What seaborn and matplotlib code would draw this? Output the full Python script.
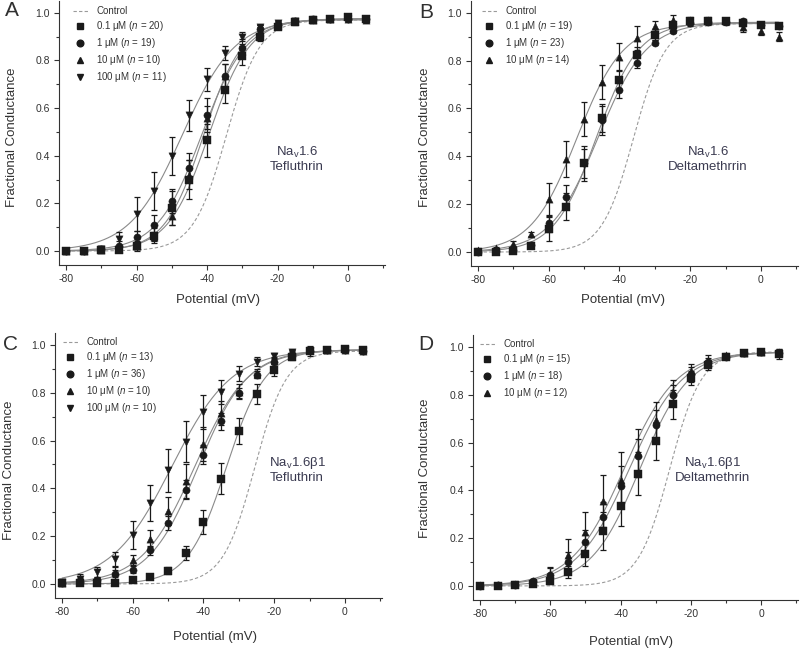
import numpy as np
import pandas as pd
import matplotlib
matplotlib.use("Agg")
import matplotlib.pyplot as plt
import seaborn as sns
from matplotlib.lines import Line2D
from matplotlib.ticker import MultipleLocator

# ---------------- data ----------------
voltage = [-80, -75, -70, -65, -60, -55, -50, -45, -40, -35, -30, -25, -20, -15, -10, -5, 0, 5]
conc_labels = ["0.1 \u03bcM", "1 \u03bcM", "10 \u03bcM", "100 \u03bcM"]
markers = ["s", "o", "^", "v"]

# Panel A : Nav1.6 Tefluthrin
a_n = [20, 19, 10, 11]
a_01 = [0.0, 0.0, 0.005, 0.005, 0.02, 0.065, 0.18, 0.30, 0.465, 0.675, 0.82, 0.90, 0.94, 0.96, 0.97, 0.975, 0.98, 0.975]
a_1 = [0.0, 0.0, 0.01, 0.02, 0.06, 0.11, 0.21, 0.35, 0.57, 0.735, 0.85, 0.93, 0.95, 0.965, 0.975, 0.975, 0.975, 0.975]
a_10 = [0.0, 0.0, 0.005, 0.01, 0.02, 0.06, 0.145, 0.32, 0.56, 0.735, 0.84, 0.92, 0.95, 0.965, 0.97, 0.975, 0.975, 0.97]
a_100 = [0.0, 0.0, 0.01, 0.05, 0.155, 0.25, 0.40, 0.57, 0.72, 0.83, 0.90, 0.94, 0.955, 0.965, 0.97, 0.975, 0.975, 0.975]
a_e01 = [0, 0, 0, 0.005, 0.01, 0.03, 0.07, 0.08, 0.07, 0.055, 0.04, 0.02, 0.01, 0.01, 0.01, 0.005, 0.005, 0.005]
a_e1 = [0, 0, 0.01, 0.02, 0.025, 0.04, 0.05, 0.06, 0.07, 0.05, 0.04, 0.02, 0.01, 0.01, 0.01, 0.005, 0.005, 0.005]
a_e10 = [0, 0, 0.005, 0.01, 0.02, 0.02, 0.035, 0.06, 0.05, 0.05, 0.03, 0.02, 0.01, 0.01, 0.01, 0.005, 0.005, 0.005]
a_e100 = [0, 0, 0.01, 0.03, 0.07, 0.08, 0.08, 0.065, 0.05, 0.03, 0.02, 0.01, 0.01, 0.01, 0.01, 0.005, 0.005, 0.005]
a_vhalf = [-39.5, -41.5, -41.0, -47.0]
a_slope = [5.8, 6.3, 5.5, 7.5]
a_gmax = [0.975, 0.975, 0.97, 0.975]
a_ctrl = [-34.5, 4.7, 0.97]   # V1/2, k, Gmax of control fit

# Panel B : Nav1.6 Deltamethrin
b_n = [19, 23, 14]
b_01 = [0.0, 0.0, 0.005, 0.025, 0.095, 0.19, 0.37, 0.56, 0.72, 0.825, 0.905, 0.95, 0.965, 0.965, 0.965, 0.955, 0.95, 0.945]
b_1 = [0.0, 0.005, 0.01, 0.03, 0.12, 0.23, 0.37, 0.55, 0.675, 0.79, 0.875, 0.925, 0.955, 0.96, 0.96, 0.965, 0.95, 0.945]
b_10 = [0.01, 0.015, 0.035, 0.075, 0.22, 0.39, 0.555, 0.71, 0.815, 0.895, 0.945, 0.97, 0.97, 0.97, 0.965, 0.94, 0.925, 0.90]
b_e01 = [0, 0, 0.005, 0.01, 0.05, 0.055, 0.075, 0.06, 0.04, 0.03, 0.02, 0.01, 0.01, 0.01, 0.01, 0.01, 0.01, 0.01]
b_e1 = [0, 0, 0.005, 0.01, 0.035, 0.05, 0.06, 0.06, 0.03, 0.02, 0.01, 0.01, 0.01, 0.01, 0.01, 0.01, 0.01, 0.01]
b_e10 = [0.005, 0.005, 0.01, 0.01, 0.07, 0.075, 0.07, 0.07, 0.06, 0.05, 0.02, 0.02, 0.01, 0.01, 0.01, 0.02, 0.02, 0.02]
b_vhalf = [-46.5, -46.0, -52.0]
b_slope = [6.0, 6.8, 6.5]
b_gmax = [0.96, 0.96, 0.955]
b_ctrl = [-36.0, 4.5, 0.955]

# Panel C : Nav1.6b1 Tefluthrin
c_n = [13, 36, 10, 10]
c_01 = [0.005, 0.005, 0.005, 0.005, 0.015, 0.03, 0.055, 0.13, 0.26, 0.44, 0.64, 0.795, 0.895, 0.95, 0.975, 0.98, 0.985, 0.98]
c_1 = [0.005, 0.01, 0.015, 0.04, 0.06, 0.14, 0.255, 0.395, 0.54, 0.68, 0.80, 0.875, 0.93, 0.96, 0.975, 0.98, 0.98, 0.975]
c_10 = [0.005, 0.015, 0.02, 0.05, 0.10, 0.19, 0.305, 0.43, 0.585, 0.715, 0.805, 0.88, 0.94, 0.965, 0.98, 0.98, 0.98, 0.975]
c_100 = [0.01, 0.02, 0.05, 0.105, 0.205, 0.34, 0.475, 0.595, 0.72, 0.805, 0.88, 0.93, 0.955, 0.97, 0.975, 0.98, 0.98, 0.975]
c_e01 = [0, 0, 0, 0, 0.005, 0.01, 0.015, 0.03, 0.05, 0.065, 0.055, 0.04, 0.025, 0.015, 0.01, 0.01, 0.01, 0.01]
c_e1 = [0.005, 0.01, 0.01, 0.02, 0.015, 0.02, 0.03, 0.04, 0.04, 0.035, 0.02, 0.015, 0.01, 0.01, 0.01, 0.01, 0.01, 0.01]
c_e10 = [0, 0.01, 0.01, 0.02, 0.02, 0.035, 0.06, 0.07, 0.07, 0.05, 0.03, 0.02, 0.01, 0.01, 0.01, 0.01, 0.01, 0.01]
c_e100 = [0.01, 0.02, 0.02, 0.03, 0.06, 0.075, 0.09, 0.085, 0.07, 0.05, 0.03, 0.02, 0.01, 0.01, 0.02, 0.01, 0.01, 0.01]
c_vhalf = [-33.5, -41.5, -42.5, -49.0]
c_slope = [5.5, 7.0, 7.5, 8.5]
c_gmax = [0.98, 0.98, 0.98, 0.98]
c_ctrl = [-25.5, 4.5, 0.975]

# Panel D : Nav1.6b1 Deltamethrin
d_n = [15, 18, 12]
d_01 = [0.0, 0.0, 0.005, 0.01, 0.02, 0.06, 0.135, 0.23, 0.335, 0.47, 0.605, 0.76, 0.87, 0.925, 0.96, 0.975, 0.98, 0.97]
d_1 = [0.0, 0.005, 0.005, 0.02, 0.045, 0.10, 0.185, 0.29, 0.42, 0.545, 0.675, 0.80, 0.885, 0.935, 0.96, 0.975, 0.98, 0.975]
d_10 = [0.005, 0.005, 0.01, 0.02, 0.05, 0.13, 0.225, 0.355, 0.445, 0.555, 0.695, 0.81, 0.90, 0.945, 0.965, 0.975, 0.98, 0.98]
d_e01 = [0, 0, 0, 0.01, 0.01, 0.025, 0.05, 0.08, 0.085, 0.09, 0.08, 0.06, 0.03, 0.02, 0.01, 0.01, 0.01, 0.02]
d_e1 = [0, 0, 0.005, 0.01, 0.03, 0.04, 0.05, 0.06, 0.08, 0.07, 0.06, 0.04, 0.03, 0.02, 0.01, 0.01, 0.01, 0.01]
d_e10 = [0.005, 0.005, 0.01, 0.01, 0.03, 0.065, 0.085, 0.11, 0.115, 0.10, 0.075, 0.05, 0.03, 0.02, 0.01, 0.01, 0.01, 0.01]
d_vhalf = [-34.5, -37.5, -39.0]
d_slope = [7.0, 7.5, 7.5]
d_gmax = [0.98, 0.98, 0.98]
d_ctrl = [-26.0, 4.5, 0.98]

# ---------------- style ----------------
sns.set_theme(style="ticks")
plt.rcParams["font.family"] = ["Liberation Sans", "DejaVu Sans"]
plt.rcParams["mathtext.fontset"] = "custom"
plt.rcParams["mathtext.rm"] = "Liberation Sans"
plt.rcParams["mathtext.it"] = "Liberation Sans:italic"
plt.rcParams["mathtext.default"] = "regular"

TXT = "#333333"
MK = "#1a1a1a"
FIT = "#8a8a8a"
CTRL = "#9a9a9a"

W, H = 800, 649
fig = plt.figure(figsize=(W / 100, H / 100), dpi=100)


def fx(x):
    return x / W


def fy(y):
    return 1 - y / H


def boltz(v, vh, k, g):
    v = np.asarray(v, dtype=float)
    return g / (1 + np.exp((vh - v) / k))


vfine = np.linspace(-80, 5, 300)

panels = [
    dict(letter="A", box=(59, 0.8, 385, 265.3), ys=[a_01, a_1, a_10, a_100], es=[a_e01, a_e1, a_e10, a_e100],
         ns=a_n, vh=a_vhalf, k=a_slope, g=a_gmax, ctrl=a_ctrl, name="Na$_v$1.6", drug="Tefluthrin",
         legxy=(73, 6), letxy=(12, 11), ann=(297, 152), xl=(218, 300), yl=(12, 137)),
    dict(letter="B", box=(471, 0.7, 798, 266.4), ys=[b_01, b_1, b_10], es=[b_e01, b_e1, b_e10],
         ns=b_n, vh=b_vhalf, k=b_slope, g=b_gmax, ctrl=b_ctrl, name="Na$_v$1.6", drug="Deltamethrrin",
         legxy=(482, 6), letxy=(426, 12), ann=(708, 152), xl=(623, 300), yl=(425, 137)),
    dict(letter="C", box=(55, 333, 382, 598.3), ys=[c_01, c_1, c_10, c_100], es=[c_e01, c_e1, c_e10, c_e100],
         ns=c_n, vh=c_vhalf, k=c_slope, g=c_gmax, ctrl=c_ctrl, name="Na$_v$1.6\u03b21", drug="Tefluthrin",
         legxy=(63, 337), letxy=(10, 344), ann=(297, 463), xl=(215, 637), yl=(9, 470)),
    dict(letter="D", box=(473, 335, 798, 600.3), ys=[d_01, d_1, d_10], es=[d_e01, d_e1, d_e10],
         ns=d_n, vh=d_vhalf, k=d_slope, g=d_gmax, ctrl=d_ctrl, name="Na$_v$1.6\u03b21", drug="Deltamethrin",
         legxy=(480, 339), letxy=(426, 345), ann=(712, 463), xl=(631, 642), yl=(425, 468)),
]

for p in panels:
    x0, y0, x1, y1 = p["box"]
    ax = fig.add_axes([fx(x0), fy(y1), (x1 - x0) / W, (y1 - y0) / H])
    ns = len(p["ys"])

    # control fit (dashed)
    cdf = pd.DataFrame({"V": vfine, "G": boltz(vfine, *p["ctrl"])})
    sns.lineplot(data=cdf, x="V", y="G", ax=ax, color=CTRL, lw=0.8, linestyle=(0, (3, 2)), zorder=1)

    # fits
    for i in range(ns):
        fdf = pd.DataFrame({"V": vfine, "G": boltz(vfine, p["vh"][i], p["k"][i], p["g"][i])})
        sns.lineplot(data=fdf, x="V", y="G", ax=ax, color=FIT, lw=0.8, zorder=2)

    # data points with error bars
    for i in range(ns):
        ax.errorbar(voltage, p["ys"][i], yerr=p["es"][i], fmt="none", ecolor=MK, elinewidth=0.9,
                    capsize=2.3, capthick=0.9, zorder=3)
        ddf = pd.DataFrame({"V": voltage, "G": p["ys"][i]})
        sns.scatterplot(data=ddf, x="V", y="G", ax=ax, marker=markers[i], color=MK, s=27,
                        edgecolor=MK, linewidth=0.3, zorder=4)

    ax.set_xlim(-82, 10.5)
    ax.set_ylim(-0.06, 1.05)
    ax.set_xlabel("")
    ax.set_ylabel("")
    ax.xaxis.set_minor_locator(MultipleLocator(10))
    ax.yaxis.set_minor_locator(MultipleLocator(0.1))
    ax.set_xticks([-80, -60, -40, -20, 0])
    ax.set_xticklabels(["-80", "-60", "-40", "-20", "0"])
    yt = [0.0, 0.2, 0.4, 0.6, 0.8, 1.0]
    ax.set_yticks(yt)
    ax.set_yticklabels([f"{t:.1f}" for t in yt])
    ax.tick_params(which="major", direction="out", length=3.5, width=0.8, color=TXT,
                   labelsize=7.5, labelcolor=TXT, pad=3)
    ax.tick_params(which="minor", direction="out", length=2.2, width=0.8, color=TXT)
    for s in ["top", "right"]:
        ax.spines[s].set_visible(False)
    for s in ["left", "bottom"]:
        ax.spines[s].set_color(TXT)
        ax.spines[s].set_linewidth(0.8)

    # legend
    handles = [Line2D([], [], color=CTRL, lw=0.8, linestyle=(0, (3, 2)))]
    labels = ["Control"]
    for i in range(ns):
        handles.append(Line2D([], [], marker=markers[i], ls="none", color=MK, markersize=4.8))
        labels.append(conc_labels[i] + " ($\\it{n}$ = " + str(p["ns"][i]) + ")")
    lx, ly = p["legxy"]
    ax.legend(handles, labels, loc="upper left",
              bbox_to_anchor=((lx - x0) / (x1 - x0), 1 - (ly - y0) / (y1 - y0)),
              frameon=False, fontsize=7, labelcolor=TXT, borderpad=0, borderaxespad=0,
              handlelength=1.5, handletextpad=0.9, labelspacing=0.32)

    # annotation
    axx, axy = p["ann"]
    fig.text(fx(axx), fy(axy), p["name"], ha="center", va="center", fontsize=9.5, color="#3a3a50")
    fig.text(fx(axx), fy(axy + 15), p["drug"], ha="center", va="center", fontsize=9.5, color="#3a3a50")

    # axis labels
    fig.text(fx(p["xl"][0]), fy(p["xl"][1]), "Potential (mV)", ha="center", va="center",
             fontsize=9.5, color=TXT)
    fig.text(fx(p["yl"][0]), fy(p["yl"][1]), "Fractional Conductance", ha="center", va="center",
             rotation=90, fontsize=9.5, color=TXT)

    # panel letter
    fig.text(fx(p["letxy"][0]), fy(p["letxy"][1]), p["letter"], ha="center", va="center",
             fontsize=15, color="#303030")

fig.savefig("out.png", dpi=100)
